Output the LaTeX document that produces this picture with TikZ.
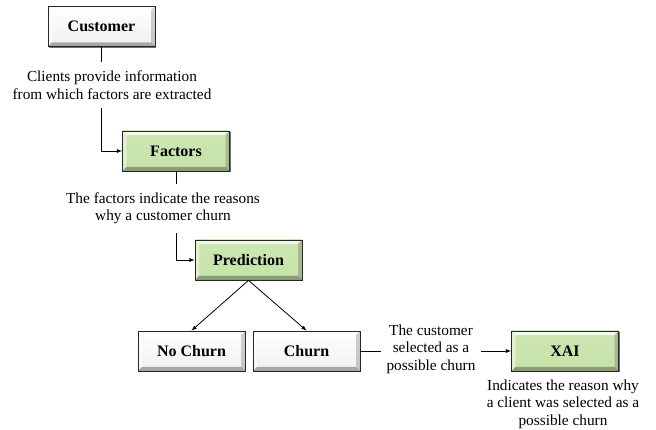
\documentclass[tikz,border=0pt]{standalone}
\usepackage{fontspec}
\setmainfont{Liberation Serif}
\usepackage{tikz}
\usetikzlibrary{arrows,shadows}
\usetikzlibrary{calc}
\usetikzlibrary{positioning}

\definecolor{boxgreen}{RGB}{197,226,167}

\begin{document}
\begin{tikzpicture}[
	x=1pt, y=1pt,
  > = latex,
  bevel/.style = {path picture={
    \fill[white,opacity=.75] (path picture bounding box.north west) -- (path picture bounding box.north east)
      -- ([shift={(-4pt,-4pt)}]path picture bounding box.north east) -- ([shift={(4pt,-4pt)}]path picture bounding box.north west) -- cycle;
    \fill[white,opacity=.45] (path picture bounding box.north west) -- (path picture bounding box.south west)
      -- ([shift={(4pt,4pt)}]path picture bounding box.south west) -- ([shift={(4pt,-4pt)}]path picture bounding box.north west) -- cycle;
    \fill[black,opacity=.3] (path picture bounding box.south west) -- (path picture bounding box.south east)
      -- ([shift={(-4pt,4pt)}]path picture bounding box.south east) -- ([shift={(4pt,4pt)}]path picture bounding box.south west) -- cycle;
    \fill[black,opacity=.18] (path picture bounding box.north east) -- (path picture bounding box.south east)
      -- ([shift={(-4pt,4pt)}]path picture bounding box.south east) -- ([shift={(-4pt,-4pt)}]path picture bounding box.north east) -- cycle;
  }},
  box/.style = {draw=black!85, line width=.8pt, bevel, minimum width=107, minimum height=40,
    top color=white, bottom color=black!6, font=\fontsize{16}{18}\selectfont\bfseries,
    drop shadow={shadow xshift=1.2pt, shadow yshift=-1.2pt, fill=black!70, opacity=.8}},
  greenbox/.style = {box, top color=boxgreen!85!white, bottom color=boxgreen},
  note/.style = {align=center, inner xsep=5pt, inner ysep=9pt, font=\fontsize{15.3}{17.5}\selectfont}
  ]
	\useasboundingbox (0,0) rectangle (656,430);

	\node[box]      (cust)    at (101.5,403.5) {Customer};
	\node[greenbox] (fact)    at (176,279)     {Factors};
	\node[greenbox] (pred)    at (248.5,170)   {Prediction};
	\node[box]      (nochurn) at (191.5,79)    {No Churn};
	\node[box]      (churn)   at (306.5,79)    {Churn};
	\node[greenbox] (xai)     at (565,79)      {XAI};

	\node[note] (clients)  at (112,345)   {Clients provide information\\from which factors are extracted};
	\node[note] (reasons)  at (163,221.5) {The factors indicate the reasons\\why a customer churn};
	\node[note] (selected) at (431,81)    {The customer\\selected as a\\possible churn};
	\node[note, inner ysep=2pt] (why) at (563,26) {Indicates the reason why\\a client was selected as a\\possible churn};

	\draw[line width=.8pt] (cust.south) -- (cust.south |- clients.north);
	\draw[->, line width=.8pt] (cust.south |- clients.south) |- (fact.west);

	\draw[line width=.8pt] (fact.south) -- (fact.south |- reasons.north);
	\draw[->, line width=.8pt] (fact.south |- reasons.south) |- (pred.west);

	\draw[->, line width=.8pt] (pred.south) -- (nochurn.north);
	\draw[->, line width=.8pt] (pred.south) -- (churn.north);

	\draw[line width=.8pt] (churn.east) -- (churn.east -| selected.west);
	\draw[->, line width=.8pt] (xai.west -| selected.east) -- (xai.west);

\end{tikzpicture}
\end{document}
